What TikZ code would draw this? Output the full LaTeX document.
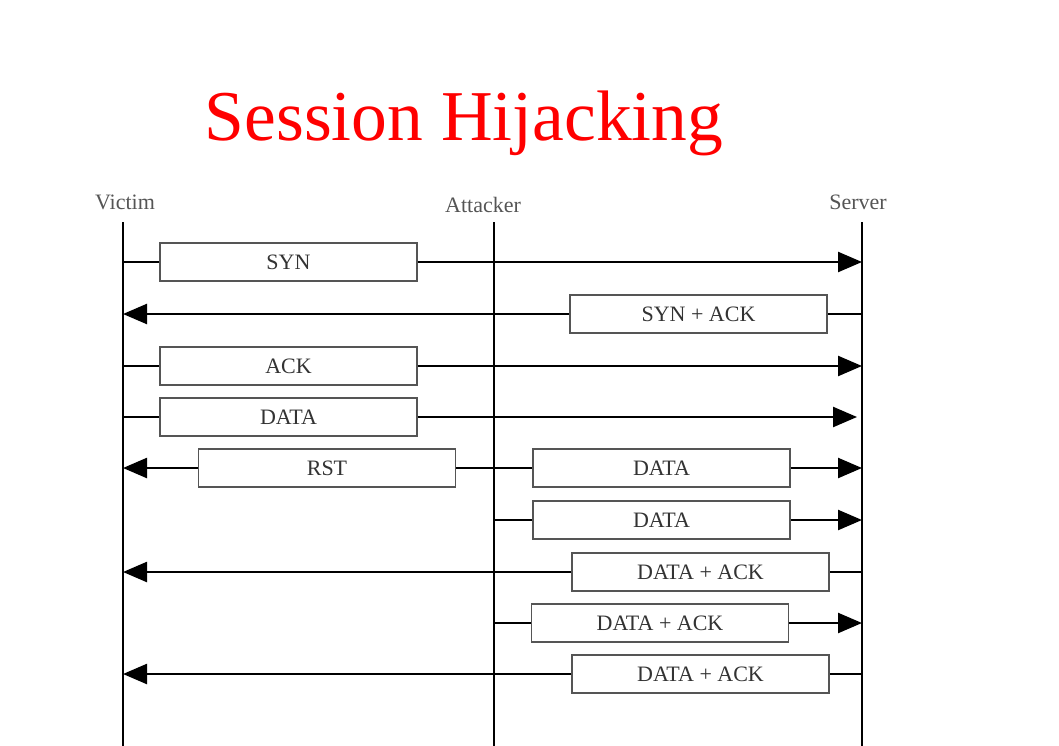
\documentclass[tikz,border=0pt]{standalone}
\usepackage{fontspec}
\setmainfont{Liberation Serif}
\usetikzlibrary{arrows.meta}
\definecolor{lblgray}{HTML}{555555}
\definecolor{boxtext}{HTML}{333333}
\definecolor{boxline}{HTML}{555555}
\begin{document}
\begin{tikzpicture}[x=1pt,y=-1pt,
  msg/.style={draw=boxline,line width=1.3pt,fill=white,minimum width=257pt,minimum height=38pt,inner sep=0pt,text=boxtext,font=\fontsize{22}{26}\selectfont},
  life/.style={line width=2.4pt,black},
  wire/.style={line width=2.4pt,black},
  arr/.style={wire,-{Triangle[length=24pt,width=20pt]}},
  who/.style={text=lblgray,font=\fontsize{22}{26}\selectfont,inner sep=0pt}]
\useasboundingbox (0,0) rectangle (1059,746);
\node[text=red,font=\fontsize{71.5}{80}\selectfont,inner sep=0pt] (title) at (464,123) {Session Hijacking};
\node[who] (victim) at (125,202) {Victim};
\node[who] (attacker) at (483,205) {Attacker};
\node[who] (server) at (858,202) {Server};
\coordinate (vt) at (123,222); \coordinate (vb) at (123,746);
\coordinate (at) at (494,222); \coordinate (ab) at (494,746);
\coordinate (st) at (862,222); \coordinate (sb) at (862,746);
\draw[life] (vt) -- (vb);
\draw[life] (at) -- (ab);
\draw[life] (st) -- (sb);
% boxes
\node[msg] (syn) at (288.5,262) {SYN};
\node[msg] (synack) at (698.5,314) {SYN + ACK};
\node[msg] (ack) at (288.5,366) {ACK};
\node[msg] (data1) at (288.5,417) {DATA};
\node[msg] (rst) at (327,468) {RST};
\node[msg] (data2) at (661.5,468) {DATA};
\node[msg] (data3) at (661.5,520) {DATA};
\node[msg] (da1) at (700.5,572) {DATA + ACK};
\node[msg] (da2) at (660,623) {DATA + ACK};
\node[msg] (da3) at (700.5,674) {DATA + ACK};
% endpoints
\coordinate (v1) at (123,262); \coordinate (s1) at (862,262);
\coordinate (v2) at (123,314); \coordinate (s2) at (862,314);
\coordinate (v3) at (123,366); \coordinate (s3) at (862,366);
\coordinate (v4) at (123,417); \coordinate (s4) at (857,417);
\coordinate (v5) at (123,468); \coordinate (a5) at (494,468); \coordinate (s5) at (862,468);
\coordinate (a6) at (494,520); \coordinate (s6) at (862,520);
\coordinate (v7) at (123,572); \coordinate (s7) at (862,572);
\coordinate (a8) at (494,623); \coordinate (s8) at (862,623);
\coordinate (v9) at (123,674); \coordinate (s9) at (862,674);
% connectors
\draw[wire] (v1) -- (syn.west); \draw[arr] (syn.east) -- (s1);
\draw[wire] (s2) -- (synack.east); \draw[arr] (synack.west) -- (v2);
\draw[wire] (v3) -- (ack.west); \draw[arr] (ack.east) -- (s3);
\draw[wire] (v4) -- (data1.west); \draw[arr] (data1.east) -- (s4);
\draw[wire] (a5) -- (rst.east); \draw[arr] (rst.west) -- (v5);
\draw[wire] (a5) -- (data2.west); \draw[arr] (data2.east) -- (s5);
\draw[wire] (a6) -- (data3.west); \draw[arr] (data3.east) -- (s6);
\draw[wire] (s7) -- (da1.east); \draw[arr] (da1.west) -- (v7);
\draw[wire] (a8) -- (da2.west); \draw[arr] (da2.east) -- (s8);
\draw[wire] (s9) -- (da3.east); \draw[arr] (da3.west) -- (v9);
\end{tikzpicture}
\end{document}
